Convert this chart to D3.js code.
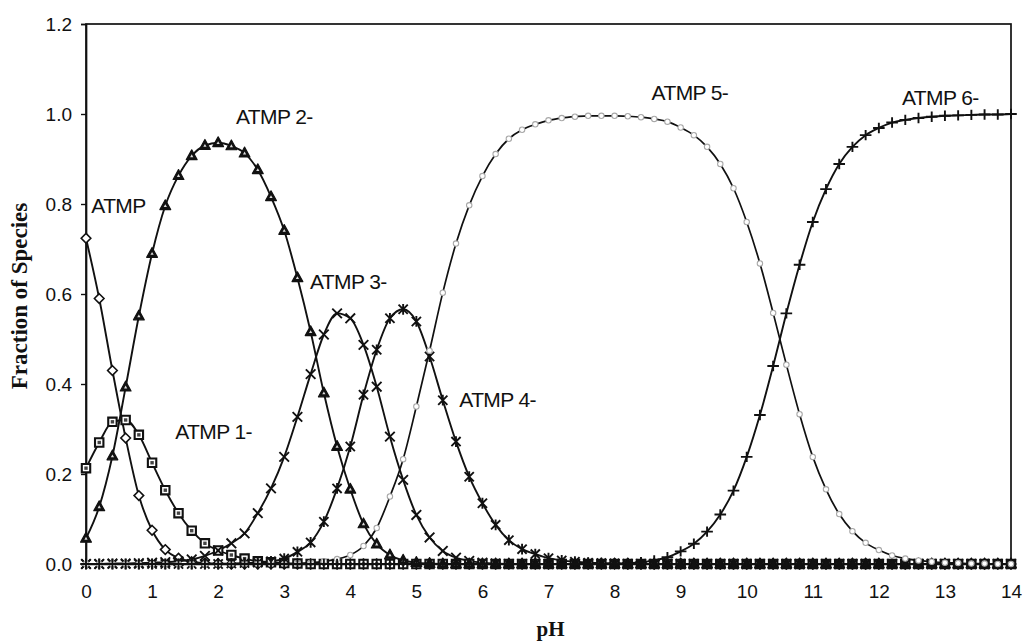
<!DOCTYPE html>
<html>
<head>
<meta charset="utf-8">
<script src="https://cdn.jsdelivr.net/npm/d3@7"></script>
<style>
  html, body { margin: 0; padding: 0; background: #fff; }
  svg { display: block; }
</style>
</head>
<body>
<svg id="chart" width="1026" height="644"></svg>
<script>
// pH grid (0.2 step)
const pH = [
  0.0, 0.2, 0.4, 0.6, 0.8, 1.0, 1.2, 1.4, 1.6, 1.8,
  2.0, 2.2, 2.4, 2.6, 2.8, 3.0, 3.2, 3.4, 3.6, 3.8,
  4.0, 4.2, 4.4, 4.6, 4.8, 5.0, 5.2, 5.4, 5.6, 5.8,
  6.0, 6.2, 6.4, 6.6, 6.8, 7.0, 7.2, 7.4, 7.6, 7.8,
  8.0, 8.2, 8.4, 8.6, 8.8, 9.0, 9.2, 9.4, 9.6, 9.8,
  10.0, 10.2, 10.4, 10.6, 10.8, 11.0, 11.2, 11.4, 11.6, 11.8,
  12.0, 12.2, 12.4, 12.6, 12.8, 13.0, 13.2, 13.4, 13.6, 13.8,
  14.0
];

// Fraction of each species at the pH values above
const atmp0 = [
  0.724, 0.590, 0.430, 0.280, 0.152, 0.075, 0.032, 0.013, 0.005, 0.002,
  0.001, 0, 0, 0, 0, 0, 0, 0, 0, 0,
  0, 0, 0, 0, 0, 0, 0, 0, 0, 0,
  0, 0, 0, 0, 0, 0, 0, 0, 0, 0,
  0, 0, 0, 0, 0, 0, 0, 0, 0, 0,
  0, 0, 0, 0, 0, 0, 0, 0, 0, 0,
  0, 0, 0, 0, 0, 0, 0, 0, 0, 0,
  0
];
const atmp1 = [
  0.213, 0.270, 0.316, 0.320, 0.287, 0.225, 0.164, 0.113, 0.074, 0.046,
  0.030, 0.020, 0.012, 0.006, 0.004, 0.002, 0.001, 0, 0, 0,
  0, 0, 0, 0, 0, 0, 0, 0, 0, 0,
  0, 0, 0, 0, 0, 0, 0, 0, 0, 0,
  0, 0, 0, 0, 0, 0, 0, 0, 0, 0,
  0, 0, 0, 0, 0, 0, 0, 0, 0, 0,
  0, 0, 0, 0, 0, 0, 0, 0, 0, 0,
  0
];
const atmp2 = [
  0.057, 0.127, 0.240, 0.393, 0.551, 0.690, 0.796, 0.863, 0.907, 0.930,
  0.936, 0.929, 0.913, 0.876, 0.816, 0.741, 0.636, 0.516, 0.380, 0.261,
  0.166, 0.089, 0.044, 0.020, 0.008, 0.003, 0.001, 0, 0, 0,
  0, 0, 0, 0, 0, 0, 0, 0, 0, 0,
  0, 0, 0, 0, 0, 0, 0, 0, 0, 0,
  0, 0, 0, 0, 0, 0, 0, 0, 0, 0,
  0, 0, 0, 0, 0, 0, 0, 0, 0, 0,
  0
];
const atmp3 = [
  0, 0, 0.001, 0.001, 0.002, 0.003, 0.004, 0.006, 0.010, 0.018,
  0.030, 0.046, 0.068, 0.113, 0.168, 0.238, 0.327, 0.422, 0.510, 0.557,
  0.546, 0.487, 0.394, 0.283, 0.187, 0.109, 0.059, 0.029, 0.014, 0.007,
  0.003, 0.001, 0, 0, 0, 0, 0, 0, 0, 0,
  0, 0, 0, 0, 0, 0, 0, 0, 0, 0,
  0, 0, 0, 0, 0, 0, 0, 0, 0, 0,
  0, 0, 0, 0, 0, 0, 0, 0, 0, 0,
  0
];
const atmp4 = [
  0, 0, 0, 0, 0, 0, 0, 0, 0, 0,
  0, 0.001, 0.002, 0.003, 0.006, 0.012, 0.027, 0.048, 0.094, 0.168,
  0.261, 0.376, 0.476, 0.546, 0.566, 0.539, 0.461, 0.364, 0.272, 0.194,
  0.135, 0.087, 0.053, 0.033, 0.022, 0.013, 0.008, 0.005, 0.003, 0.002,
  0.001, 0, 0, 0, 0, 0, 0, 0, 0, 0,
  0, 0, 0, 0, 0, 0, 0, 0, 0, 0,
  0, 0, 0, 0, 0, 0, 0, 0, 0, 0,
  0
];
const atmp5 = [
  0, 0, 0, 0, 0, 0, 0, 0, 0, 0,
  0, 0, 0, 0, 0, 0, 0.001, 0.003, 0.006, 0.011,
  0.020, 0.040, 0.080, 0.150, 0.233, 0.350, 0.474, 0.603, 0.712, 0.797,
  0.862, 0.911, 0.945, 0.965, 0.977, 0.986, 0.991, 0.994, 0.996, 0.996,
  0.996, 0.995, 0.993, 0.989, 0.983, 0.970, 0.953, 0.927, 0.889, 0.835,
  0.760, 0.668, 0.558, 0.443, 0.333, 0.238, 0.166, 0.111, 0.073, 0.047,
  0.031, 0.019, 0.012, 0.008, 0.005, 0.003, 0.002, 0.001, 0.001, 0,
  0
];
const atmp6 = [
  0, 0, 0, 0, 0, 0, 0, 0, 0, 0,
  0, 0, 0, 0, 0, 0, 0, 0, 0, 0,
  0, 0, 0, 0, 0, 0, 0, 0, 0, 0,
  0, 0, 0, 0, 0, 0, 0, 0, 0, 0,
  0.001, 0.002, 0.004, 0.008, 0.015, 0.028, 0.045, 0.072, 0.110, 0.163,
  0.238, 0.331, 0.440, 0.557, 0.665, 0.760, 0.833, 0.889, 0.927, 0.953,
  0.969, 0.981, 0.987, 0.991, 0.994, 0.996, 0.997, 0.998, 0.999, 0.999,
  1.000
];

const seriesNames = ["ATMP", "ATMP 1-", "ATMP 2-", "ATMP 3-", "ATMP 4-", "ATMP 5-", "ATMP 6-"];
const seriesValues = [atmp0, atmp1, atmp2, atmp3, atmp4, atmp5, atmp6];
const seriesMarkers = ["diamond", "square", "triangle", "cross", "star", "circle", "plus"];

const xTicks = [0, 1, 2, 3, 4, 5, 6, 7, 8, 9, 10, 11, 12, 13, 14];
const yTicks = [0.0, 0.2, 0.4, 0.6, 0.8, 1.0, 1.2];

// Curve labels: species name with the pH / fraction where the text starts
const labelNames = ["ATMP", "ATMP 1-", "ATMP 2-", "ATMP 3-", "ATMP 4-", "ATMP 5-", "ATMP 6-"];
const labelPH = [0.08, 1.35, 2.27, 3.39, 5.65, 8.56, 12.35];
const labelFrac = [0.781, 0.278, 0.977, 0.611, 0.349, 1.031, 1.021];

const svg = d3.select("#chart");
const W = 1026, H = 644;
const plot = { left: 86, right: 1011, top: 24, bottom: 564 };

const x = d3.scaleLinear().domain([0, 14]).range([plot.left, plot.right]);
const y = d3.scaleLinear().domain([0, 1.2]).range([plot.bottom, plot.top]);

svg.append("rect").attr("width", W).attr("height", H).attr("fill", "#fff");

// Frame
svg.append("rect")
  .attr("x", plot.left).attr("y", plot.top)
  .attr("width", plot.right - plot.left).attr("height", plot.bottom - plot.top)
  .attr("fill", "none").attr("stroke", "#111").attr("stroke-width", 1.7);

// Axes
const fontSans = "'Liberation Sans', Arial, Helvetica, sans-serif";
const xAxis = d3.axisBottom(x).tickValues(xTicks).tickFormat(d3.format("d")).tickSizeOuter(0).tickSize(5).tickPadding(16);
const yAxis = d3.axisLeft(y).tickValues(yTicks).tickFormat(d3.format(".1f")).tickSizeOuter(0).tickSize(5).tickPadding(9);

const gx = svg.append("g").attr("transform", `translate(0,${plot.bottom})`).call(xAxis);
const gy = svg.append("g").attr("transform", `translate(${plot.left},0)`).call(yAxis);
[gx, gy].forEach(g => {
  g.select(".domain").attr("stroke", "#111").attr("stroke-width", 1.7);
  g.selectAll(".tick line").attr("stroke", "#111").attr("stroke-width", 1.4);
  g.selectAll(".tick text")
    .attr("fill", "#111")
    .style("font-family", fontSans)
    .style("font-size", "19px");
});

// Axis titles
svg.append("text")
  .attr("x", (plot.left + plot.right) / 2 + 2).attr("y", 636)
  .attr("text-anchor", "middle")
  .style("font-family", "'Liberation Serif', 'Times New Roman', serif")
  .style("font-weight", "bold").style("font-size", "21px")
  .attr("fill", "#111")
  .text("pH");

svg.append("text")
  .attr("transform", "translate(27,296) rotate(-90)")
  .attr("text-anchor", "middle")
  .style("font-family", "'Liberation Serif', 'Times New Roman', serif")
  .style("font-weight", "bold").style("font-size", "23px")
  .attr("fill", "#111")
  .text("Fraction of Species");

// Lines
const line = d3.line()
  .x((d, i) => x(pH[i]))
  .y(d => y(d))
  .curve(d3.curveMonotoneX);

const gLines = svg.append("g");
seriesValues.forEach((vals, k) => {
  gLines.append("path")
    .datum(vals)
    .attr("d", line)
    .attr("fill", "none")
    .attr("stroke", "#111")
    .attr("stroke-width", k === 5 ? 1.7 : 1.9);
});

// Markers
const markerPaths = {
  diamond: "M0,-4.8L4.8,0L0,4.8L-4.8,0Z",
  square: "M-4.2,-4.2L4.2,-4.2L4.2,4.2L-4.2,4.2Z",
  triangle: "M0,-6L5.4,3.8L-5.4,3.8Z",
  triangleInner: "M0,-1.6L1.6,1.3L-1.6,1.3Z",
  cross: "M-4.8,-4.8L4.8,4.8M-4.8,4.8L4.8,-4.8",
  star: "M-4.6,-4.6L4.6,4.6M-4.6,4.6L4.6,-4.6M0,-5.4L0,5.4",
  plus: "M-5.8,0L5.8,0M0,-5.2L0,5.2"
};

const gMarks = svg.append("g");
seriesValues.forEach((vals, k) => {
  const kind = seriesMarkers[k];
  const g = gMarks.append("g");
  const pts = g.selectAll("g").data(vals).join("g")
    .attr("transform", (d, i) => `translate(${x(pH[i])},${y(d)})`);
  if (kind === "circle") {
    pts.append("circle").attr("r", 2.7)
      .attr("fill", "#fff").attr("stroke", "#a8a8a8").attr("stroke-width", 1.1);
  } else if (kind === "cross" || kind === "star" || kind === "plus") {
    pts.append("path").attr("d", markerPaths[kind])
      .attr("fill", "none").attr("stroke", "#111").attr("stroke-width", 1.9);
  } else if (kind === "triangle") {
    pts.append("path").attr("d", markerPaths.triangle).attr("fill", "#111")
      .attr("stroke", "#111").attr("stroke-width", 1.2).attr("stroke-linejoin", "round");
    pts.append("path").attr("d", markerPaths.triangleInner).attr("fill", "#ddd");
  } else {
    pts.append("path").attr("d", markerPaths[kind])
      .attr("fill", "#fff").attr("stroke", "#111")
      .attr("stroke-width", kind === "square" ? 2.1 : 1.6);
    if (kind === "square") {
      pts.append("rect").attr("x", -1.7).attr("y", -1.7).attr("width", 3.4).attr("height", 3.4)
        .attr("fill", "#444");
    }
  }
});

// Curve labels
svg.append("g").selectAll("text").data(labelNames).join("text")
  .attr("x", (d, i) => x(labelPH[i]))
  .attr("y", (d, i) => y(labelFrac[i]))
  .style("font-family", fontSans)
  .style("font-size", "21px")
  .style("letter-spacing", "-0.6px")
  .attr("fill", "#111")
  .text(d => d);
</script>
</body>
</html>
